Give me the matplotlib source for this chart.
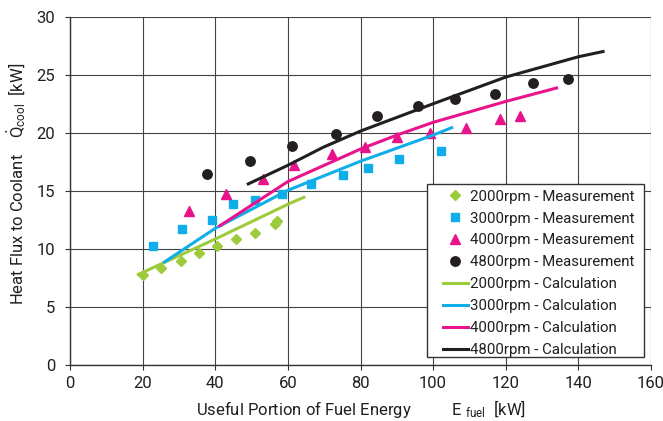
import matplotlib
matplotlib.use('Agg')
import matplotlib.pyplot as plt
from matplotlib.patches import Rectangle

x2000 = [20.0, 25.1, 30.5, 35.4, 40.5, 45.8, 50.9, 56.5, 56.9]
y2000 = [7.75, 8.33, 8.98, 9.67, 10.25, 10.83, 11.34, 12.14, 12.38]
x3000 = [22.9, 30.9, 39.1, 44.8, 51.0, 58.3, 66.4, 75.3, 82.2, 90.7, 102.1]
y3000 = [10.25, 11.71, 12.49, 13.84, 14.19, 14.75, 15.59, 16.37, 16.97, 17.74, 18.43]
x4000 = [32.8, 42.9, 53.2, 61.7, 72.1, 81.3, 90.1, 99.2, 109.0, 118.3, 123.9]
y4000 = [13.29, 14.70, 16.02, 17.25, 18.15, 18.75, 19.66, 20.01, 20.4, 21.2, 21.45]
x4800 = [37.6, 49.6, 61.2, 73.2, 84.5, 95.8, 106.1, 117.0, 127.6, 137.2]
y4800 = [16.43, 17.55, 18.86, 19.87, 21.45, 22.31, 22.89, 23.34, 24.32, 24.66]

# calculation curves
cx2000 = [18.8, 40.0, 60.6, 64.4]
cy2000 = [7.8, 10.85, 13.93, 14.44]
cx3000 = [26.0, 40.0, 60.0, 80.0, 100.0, 105.1]
cy3000 = [8.87, 11.77, 15.05, 17.55, 19.8, 20.44]
cx4000 = [41.3, 60.0, 80.0, 90.0, 100.0, 120.0, 134.0]
cy4000 = [12.0, 15.8, 18.6, 19.8, 20.9, 22.7, 23.86]
cx4800 = [49.1, 60.0, 69.7, 80.0, 100.0, 120.0, 140.0, 146.8]
cy4800 = [15.6, 17.2, 18.75, 20.15, 22.5, 24.8, 26.55, 27.0]

green = '#9dcb3c'
blue = '#10aee8'
pink = '#e9148c'
black = '#231f20'
txt = '#231f20'

plt.rcParams['font.family'] = ['Roboto', 'DejaVu Sans']
plt.rcParams['mathtext.fontset'] = 'custom'
plt.rcParams['mathtext.rm'] = 'Roboto'
plt.rcParams['mathtext.it'] = 'Roboto'

fig = plt.figure(figsize=(6.63, 4.21), dpi=100)
ax = fig.add_axes([70/663, 1-365/421, 581/663, 348.3/421])

ax.plot(x2000, y2000, 'D', color=green, ms=5, ls='none', label='2000rpm - Measurement')
ax.plot(x3000, y3000, 's', color=blue, ms=5.5, ls='none', label='3000rpm - Measurement')
ax.plot(x4000, y4000, '^', color=pink, ms=7, ls='none', label='4000rpm - Measurement')
ax.plot(x4800, y4800, 'o', color=black, ms=6.8, ls='none', label='4800rpm - Measurement')
ax.plot(cx2000, cy2000, color=green, lw=2.2, label='2000rpm - Calculation')
ax.plot(cx3000, cy3000, color=blue, lw=2.2, label='3000rpm - Calculation')
ax.plot(cx4000, cy4000, color=pink, lw=2.2, label='4000rpm - Calculation')
ax.plot(cx4800, cy4800, color=black, lw=2.2, label='4800rpm - Calculation')

ax.set_xlim(0, 160)
ax.set_ylim(0, 30)
ax.set_xticks(range(0, 161, 20))
ax.set_yticks(range(0, 31, 5))
ax.grid(True, color='#444444', lw=0.8)
ax.set_axisbelow(True)
for s in ['top', 'right']:
    ax.spines[s].set_visible(False)
for s in ['left', 'bottom']:
    ax.spines[s].set_color('#333333')
    ax.spines[s].set_linewidth(1.0)
ax.tick_params(direction='out', length=3.6, width=0.8, color='#333333', labelsize=12, labelcolor=txt)
ax.tick_params(axis='x', pad=4.5)
ax.tick_params(axis='y', pad=7)

ax.set_xlabel('Useful Portion of Fuel Energy          E $_{\\rm fuel}$  [kW]', fontsize=12, color=txt, labelpad=4.5)
ax.set_ylabel('Heat Flux to Coolant    $\\dot{\\rm Q}_{\\rm cool}$  [kW]', fontsize=12, color=txt)
ax.yaxis.set_label_coords(-0.072, 0.52)

# legend box (wider side margins than matplotlib's own frame allows)
box = Rectangle((0.6145, 0.0238), 0.3735, 0.495, transform=ax.transAxes, facecolor='white',
                edgecolor='#333333', lw=1.0, zorder=3)
ax.add_patch(box)
leg = ax.legend(loc='upper left', bbox_to_anchor=(0.6415, 0.5036), fontsize=10.8, frameon=False,
                handlelength=1.7, handletextpad=0.15, labelspacing=0.53, borderpad=0, borderaxespad=0)
leg.set_zorder(5)
for t in leg.get_texts():
    t.set_color(txt)

fig.savefig('out.png', dpi=100)
